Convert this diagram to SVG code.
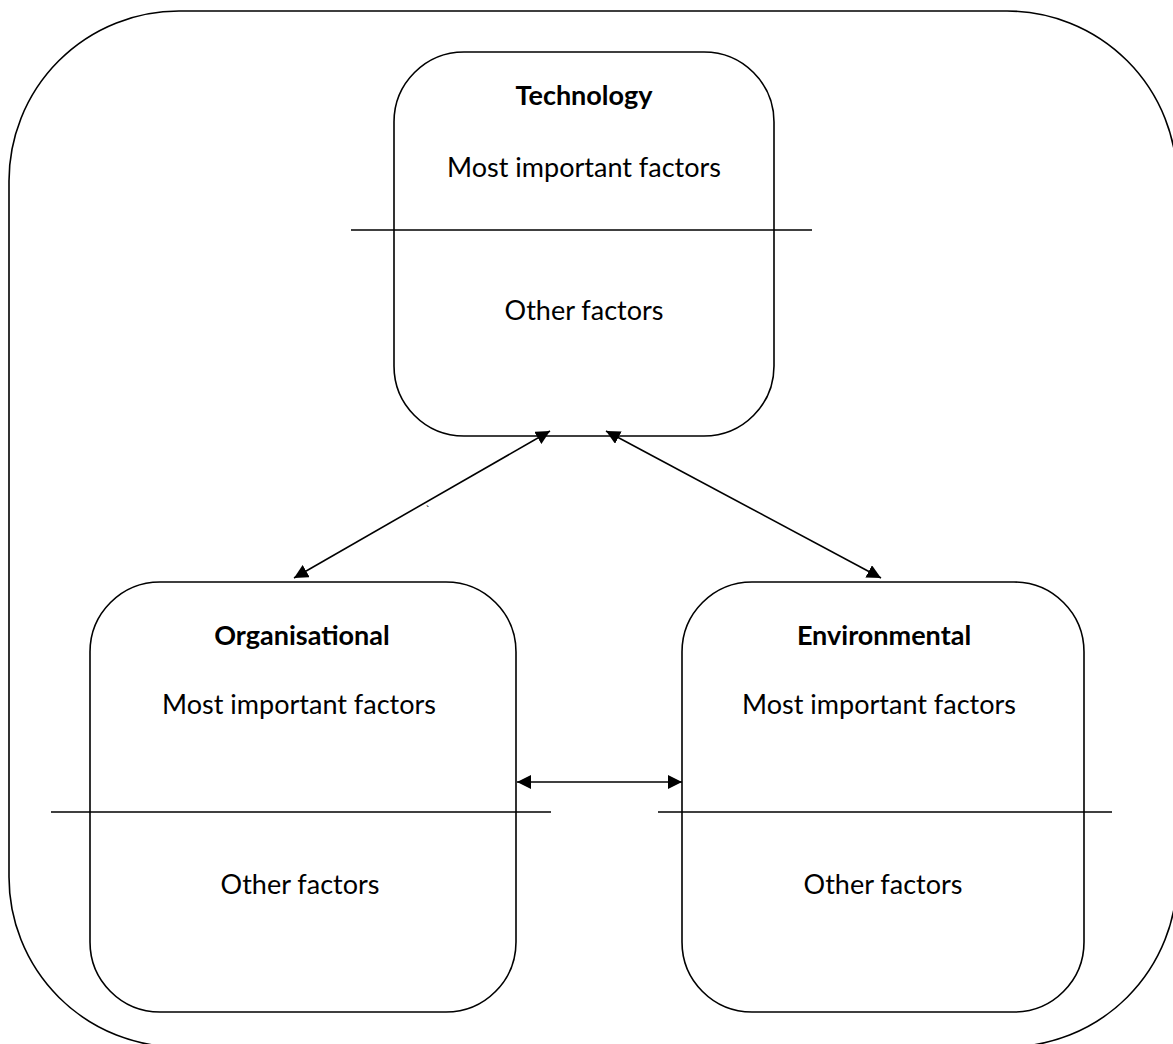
<svg xmlns="http://www.w3.org/2000/svg" width="1173" height="1044" viewBox="0 0 1173 1044">
  <defs>
    <marker id="tip" viewBox="0 0 12 12" refX="12" refY="6" markerWidth="14" markerHeight="14" markerUnits="userSpaceOnUse" orient="auto-start-reverse">
      <path d="M0,0 L12,6 L0,12 z" fill="#000"/>
    </marker>
    <style>
      .frame { fill: none; stroke: #000; stroke-width: 1.6; }
      .box { fill: #fff; stroke: #000; stroke-width: 1.6; }
      .rule { stroke: #000; stroke-width: 1.5; }
      .link { stroke: #000; stroke-width: 1.6; fill: none; marker-start: url(#tip); marker-end: url(#tip); }
      text { font-family: "Lato", "Liberation Sans", sans-serif; fill: #000; text-anchor: middle; }
      .title { font-weight: bold; font-size: 27px; }
      .body { font-size: 27px; }
    </style>
  </defs>

  <rect width="1173" height="1044" fill="#fff"/>

  <!-- enclosing context boundary -->
  <rect class="frame" x="9" y="11" width="1168" height="1036" rx="170" ry="170"/>

  <g id="technology">
    <rect class="box" x="394" y="52" width="380" height="384" rx="70" ry="70"/>
    <line class="rule" x1="351" y1="230" x2="812" y2="230"/>
    <text class="title" x="584" y="105">Technology</text>
    <text class="body" x="584" y="177">Most important factors</text>
    <text class="body" x="584" y="320">Other factors</text>
  </g>

  <g id="organisational">
    <rect class="box" x="90" y="582" width="426" height="430" rx="70" ry="70"/>
    <line class="rule" x1="51" y1="812" x2="551" y2="812"/>
    <text class="title" x="302" y="645">Organisational</text>
    <text class="body" x="299" y="714">Most important factors</text>
    <text class="body" x="300" y="894">Other factors</text>
  </g>

  <g id="environmental">
    <rect class="box" x="682" y="582" width="402" height="430" rx="70" ry="70"/>
    <line class="rule" x1="658" y1="812" x2="1112" y2="812"/>
    <text class="title" x="884" y="645">Environmental</text>
    <text class="body" x="879" y="714">Most important factors</text>
    <text class="body" x="883" y="894">Other factors</text>
  </g>

  <g id="connectors">
    <line class="link" x1="550" y1="431" x2="294" y2="578"/>
    <line class="link" x1="606" y1="431" x2="881" y2="578"/>
    <line class="link" x1="517" y1="782" x2="682" y2="782"/>
    <text x="428" y="514" style="font-size:12px">`</text>
  </g>
</svg>
